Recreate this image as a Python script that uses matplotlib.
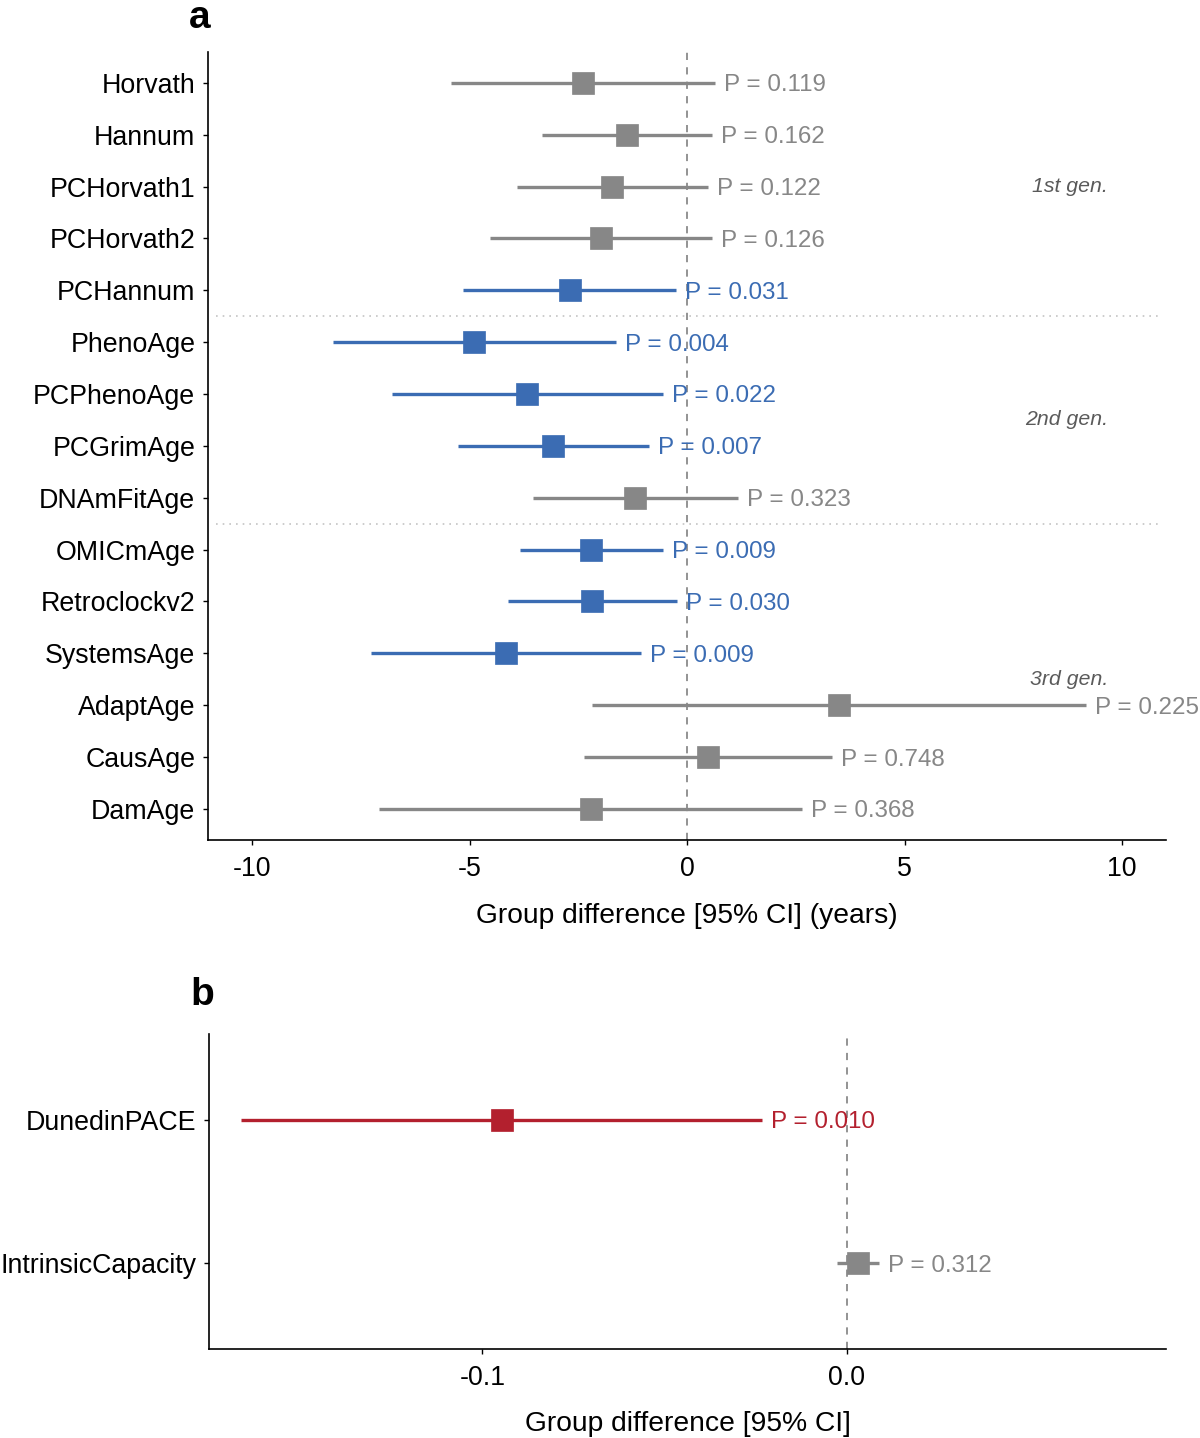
import matplotlib
matplotlib.use("Agg")
import matplotlib.pyplot as plt
import numpy as np

plt.rcParams['font.family'] = ['Liberation Sans', 'DejaVu Sans']

# panel a: epigenetic clocks (years)
clocks_a = ["Horvath", "Hannum", "PCHorvath1", "PCHorvath2", "PCHannum",
            "PhenoAge", "PCPhenoAge", "PCGrimAge", "DNAmFitAge",
            "OMICmAge", "Retroclockv2", "SystemsAge", "AdaptAge", "CausAge", "DamAge"]
est_a = [-2.40, -1.38, -1.72, -1.99, -2.70, -4.89, -3.68, -3.08, -1.19,
         -2.20, -2.18, -4.17, 3.49, 0.47, -2.22]
lo_a = [-5.43, -3.33, -3.90, -4.54, -5.14, -8.15, -6.78, -5.27, -3.55,
        -3.83, -4.12, -7.26, -2.19, -2.38, -7.07]
hi_a = [0.63, 0.57, 0.47, 0.57, -0.26, -1.64, -0.56, -0.87, 1.18,
        -0.56, -0.23, -1.07, 9.17, 3.32, 2.64]
p_a = ["0.119", "0.162", "0.122", "0.126", "0.031", "0.004", "0.022", "0.007",
       "0.323", "0.009", "0.030", "0.009", "0.225", "0.748", "0.368"]

gen_labels = ["1st gen.", "2nd gen.", "3rd gen."]
gen_rows = [3, 7.5, 12.5]
gen_breaks = [5.5, 9.5]

# panel b: pace of aging / intrinsic capacity
clocks_b = ["DunedinPACE", "IntrinsicCapacity"]
est_b = [-0.0946, 0.0030]
lo_b = [-0.1661, -0.0027]
hi_b = [-0.0232, 0.0088]
p_b = ["0.010", "0.312"]

GREY = "#878787"
BLUE = "#3b6cb3"
RED = "#b3202e"

W, H = 1200, 1438
fig = plt.figure(figsize=(W / 100, H / 100), dpi=100)


def ax_rect(l, t, r, b):
    return [l / W, 1 - b / H, (r - l) / W, (b - t) / H]


def style_axes(ax):
    for s in ["top", "right"]:
        ax.spines[s].set_visible(False)
    for s in ["left", "bottom"]:
        ax.spines[s].set_linewidth(1.2)
        ax.spines[s].set_color("black")
    ax.tick_params(axis="both", length=3.5, width=1.0, color="black",
                   labelsize=19.3, labelcolor="black")
    ax.tick_params(axis="y", pad=6)
    ax.tick_params(axis="x", pad=8)


def forest(ax, names, est, lo, hi, pvals, sig_color):
    y = np.arange(1, len(names) + 1)
    ax.axvline(0, color="#8a8a8a", lw=1.3, ls=(0, (4, 4)), zorder=1)
    for yi, e, l, h, p in zip(y, est, lo, hi, pvals):
        c = sig_color if float(p) < 0.05 else GREY
        ax.plot([l, h], [yi, yi], color=c, lw=2.4, solid_capstyle="butt", zorder=2)
        ax.plot(e, yi, marker="s", ms=15.5, color=c, mec=c, mew=0.5, zorder=3)
        ax.annotate("P = " + p, xy=(h, yi), xytext=(6.5, 0), textcoords="offset points",
                    ha="left", va="center_baseline", color=c, fontsize=17.4, zorder=4)
    ax.set_yticks(y)
    ax.set_yticklabels(names)
    ax.set_ylim(len(names) + 0.6, 0.4)


# ---- panel a
ax1 = fig.add_axes(ax_rect(208.5, 51.7, 1165.7, 840))
style_axes(ax1)
forest(ax1, clocks_a, est_a, lo_a, hi_a, p_a, BLUE)
ax1.set_xlim(-11.0, 11.0)
ax1.set_xticks([-10, -5, 0, 5, 10])
ax1.set_xticklabels(["-10", "-5", "0", "5", "10"])
for yb in gen_breaks:
    ax1.axhline(yb, xmin=0.008, xmax=0.996, color="#c4c4c4", lw=1.2, ls=(0, (1, 3)), zorder=0)
for lab, yr in zip(gen_labels, gen_rows):
    ax1.text(9.67, yr, lab, ha="right", va="center", style="italic",
             color="#5a5a5a", fontsize=15.3)
ax1.set_xlabel("Group difference [95% CI] (years)", fontsize=20.3, labelpad=15)
fig.text(200 / W, 1 - 28 / H, "a", fontsize=28, fontweight="bold", ha="center", va="baseline")

# ---- panel b
ax2 = fig.add_axes(ax_rect(209.3, 1034, 1165.7, 1349.3))
style_axes(ax2)
forest(ax2, clocks_b, est_b, lo_b, hi_b, p_b, RED)
ax2.set_xlim(-0.1749, 0.0875)
ax2.set_xticks([-0.1, 0.0])
ax2.set_xticklabels(["-0.1", "0.0"])
ax2.set_xlabel("Group difference [95% CI]", fontsize=20.3, labelpad=14)
fig.text(202 / W, 1 - 1005 / H, "b", fontsize=28, fontweight="bold", ha="center", va="baseline")

fig.savefig("out.png", dpi=100, facecolor="white")
